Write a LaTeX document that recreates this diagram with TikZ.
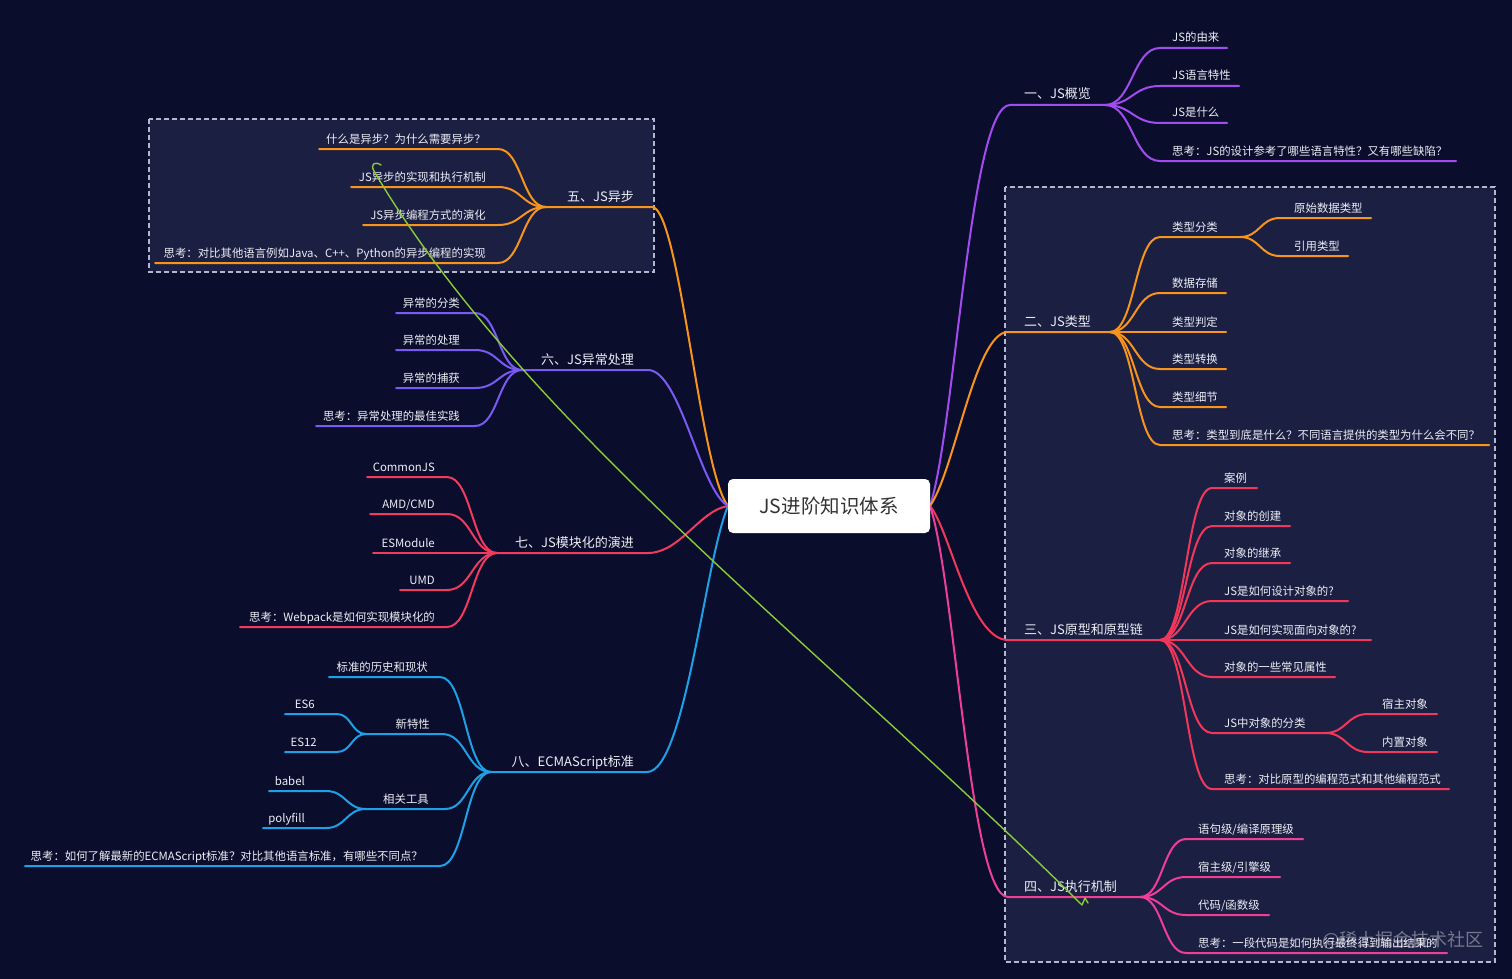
\documentclass[tikz,border=0pt]{standalone}
\usepackage{fontspec}
\setmainfont{Noto Sans CJK SC}
\usetikzlibrary{calc}
\definecolor{bg}{HTML}{0A0E2C}
\definecolor{boxbg}{HTML}{1B1F42}
\definecolor{boxln}{HTML}{B4B8CC}
\definecolor{txt}{HTML}{EDEDF5}
\definecolor{rootTxt}{HTML}{333333}
\definecolor{cA}{HTML}{A24CF0}
\definecolor{cB}{HTML}{F7941D}
\definecolor{cC}{HTML}{F2385A}
\definecolor{cD}{HTML}{EC3F95}
\definecolor{cF}{HTML}{7A5AF5}
\definecolor{cG}{HTML}{F03A5E}
\definecolor{cH}{HTML}{1FA0E6}
\definecolor{cI}{HTML}{8ACB3A}
\tikzset{
  lbl/.style={text=txt, font=\fontsize{11.4}{13}\selectfont, inner sep=0pt},
  toplbl/.style={text=txt, font=\fontsize{13}{15}\selectfont, inner sep=0pt},
  br/.style={draw=#1, line width=2pt, line cap=round},
  boxst/.style={fill=boxbg, draw=boxln, line width=1.2pt, dash pattern=on 5pt off 3pt},
  rootst/.style={fill=white, rounded corners=5pt, minimum width=202pt, minimum height=54pt,
    inner sep=0pt, text=rootTxt, font=\fontsize{19.5}{22}\selectfont},
  wm/.style={text=white, opacity=0.4, font=\fontsize{18}{20}\selectfont, inner sep=0pt},
}
% right child: [label offset] name, junction, xs, y, xe, text, colour
\newcommand\RChild[8][12]{%
  \coordinate (#2s) at (#4,#5);
  \coordinate (#2e) at (#6,#5);
  \node[lbl,anchor=base west] (#2) at ([xshift=#1pt,yshift=6pt]#2s) {#7};
  \draw[br=#8] (#3) .. controls ($(#3)!0.5!(#3 -| #2s)$) and ($(#2s)!0.5!(#2s -| #3)$) .. (#2s) -- (#2e);
}
% left child: [label offset] name, junction, xs, y, xe, text, colour
\newcommand\LChild[8][12]{%
  \coordinate (#2s) at (#4,#5);
  \coordinate (#2e) at (#6,#5);
  \node[lbl,anchor=base east] (#2) at ([xshift=-#1pt,yshift=6pt]#2e) {#7};
  \draw[br=#8] (#3) .. controls ($(#3)!0.5!(#3 -| #2e)$) and ($(#2e)!0.5!(#2e -| #3)$) .. (#2e) -- (#2s);
}
\begin{document}
\begin{tikzpicture}[x=1pt,y=-1pt]
\useasboundingbox (0,0) rectangle (1512,979);
\fill[bg] (0,0) rectangle (1512,979);
% dashed boxes
\draw[boxst] (149,119) rectangle (654,272);
\draw[boxst] (1005,187) rectangle (1495,962);

% root position
\coordinate (rootE) at (930,506);
\coordinate (rootW) at (728,506);

% ===== right main topics =====
\coordinate (t1) at (1010,105); \coordinate (j1) at (1105,105);
\coordinate (t2) at (1008,332); \coordinate (j2) at (1110,332);
\coordinate (t3) at (1008,640); \coordinate (j3) at (1160,640);
\coordinate (t4) at (1008,897); \coordinate (j4) at (1140,897);
\draw[br=cA] (rootE) .. controls (955,430) and (970,105) .. (t1) -- (j1);
\draw[br=cB] (rootE) .. controls (955,470) and (975,332) .. (t2) -- (j2);
\draw[br=cC] (rootE) .. controls (950,530) and (970,640) .. (t3) -- (j3);
\draw[br=cD] (rootE) .. controls (955,580) and (970,897) .. (t4) -- (j4);
\node[toplbl,anchor=base west] (T1) at ([xshift=14pt,yshift=6pt]t1) {一、JS概览};
\node[toplbl,anchor=base west] (T2) at ([xshift=16pt,yshift=6pt]t2) {二、JS类型};
\node[toplbl,anchor=base west] (T3) at ([xshift=16pt,yshift=6pt]t3) {三、JS原型和原型链};
\node[toplbl,anchor=base west] (T4) at ([xshift=16pt,yshift=6pt]t4) {四、JS执行机制};

% 一
\RChild{a1}{j1}{1160}{48}{1227}{JS的由来}{cA}
\RChild{a2}{j1}{1160}{86}{1239}{JS语言特性}{cA}
\RChild{a3}{j1}{1160}{123}{1227}{JS是什么}{cA}
\RChild{a4}{j1}{1160}{161}{1456}{思考：JS的设计参考了哪些语言特性？又有哪些缺陷？}{cA}
% 二
\RChild{b1}{j2}{1160}{237}{1240}{类型分类}{cB}
\RChild[14]{b1a}{b1e}{1280}{218}{1371}{原始数据类型}{cB}
\RChild[14]{b1b}{b1e}{1280}{256}{1348}{引用类型}{cB}
\RChild{b2}{j2}{1160}{293}{1226}{数据存储}{cB}
\RChild{b3}{j2}{1160}{332}{1226}{类型判定}{cB}
\RChild{b4}{j2}{1160}{369}{1226}{类型转换}{cB}
\RChild{b5}{j2}{1160}{407}{1226}{类型细节}{cB}
\RChild{b6}{j2}{1160}{445}{1489}{思考：类型到底是什么？不同语言提供的类型为什么会不同？}{cB}
% 三
\RChild{c1}{j3}{1212}{488}{1257}{案例}{cC}
\RChild{c2}{j3}{1212}{526}{1290}{对象的创建}{cC}
\RChild{c3}{j3}{1212}{563}{1290}{对象的继承}{cC}
\RChild{c4}{j3}{1212}{601}{1348}{JS是如何设计对象的?}{cC}
\RChild{c5}{j3}{1212}{640}{1371}{JS是如何实现面向对象的?}{cC}
\RChild{c6}{j3}{1212}{677}{1335}{对象的一些常见属性}{cC}
\RChild{c7}{j3}{1212}{733}{1325}{JS中对象的分类}{cC}
\RChild[14]{c7a}{c7e}{1368}{714}{1437}{宿主对象}{cC}
\RChild[14]{c7b}{c7e}{1368}{752}{1437}{内置对象}{cC}
\RChild{c8}{j3}{1212}{789}{1449}{思考：对比原型的编程范式和其他编程范式}{cC}
% 四
\RChild{d1}{j4}{1186}{839}{1303}{语句级/编译原理级}{cD}
\RChild{d2}{j4}{1186}{877}{1280}{宿主级/引擎级}{cD}
\RChild{d3}{j4}{1186}{915}{1269}{代码/函数级}{cD}
\RChild{d4}{j4}{1186}{953}{1447}{思考：一段代码是如何执行最终得到输出结果的}{cD}

% ===== left main topics =====
\coordinate (t5) at (653,207); \coordinate (j5) at (546,207);
\coordinate (t6) at (648,370); \coordinate (j6) at (522,370);
\coordinate (t7) at (648,553); \coordinate (j7) at (497,553);
\coordinate (t8) at (647,772); \coordinate (j8) at (491,772);
\draw[br=cB] (rootW) .. controls (700,470) and (680,215) .. (t5) -- (j5);
\draw[br=cF] (rootW) .. controls (700,490) and (680,370) .. (t6) -- (j6);
\draw[br=cG] (rootW) .. controls (700,510) and (680,553) .. (t7) -- (j7);
\draw[br=cH] (rootW) .. controls (705,560) and (685,772) .. (t8) -- (j8);
\node[toplbl,anchor=base east] (T5) at (634,201) {五、JS异步};
\node[toplbl,anchor=base east] (T6) at (634,364) {六、JS异常处理};
\node[toplbl,anchor=base east] (T7) at (634,547) {七、JS模块化的演进};
\node[toplbl,anchor=base east] (T8) at (634,766) {八、ECMAScript标准};

% 五
\LChild{e1}{j5}{319}{149}{498}{什么是异步？为什么需要异步？}{cB}
\LChild{e2}{j5}{351}{187}{498}{JS异步的实现和执行机制}{cB}
\LChild{e3}{j5}{363}{225}{498}{JS异步编程方式的演化}{cB}
\LChild{e4}{j5}{155}{263}{498}{思考：对比其他语言例如Java、C++、Python的异步编程的实现}{cB}
% 六
\LChild[15]{f1}{j6}{396}{313}{475}{异常的分类}{cF}
\LChild[15]{f2}{j6}{396}{350}{475}{异常的处理}{cF}
\LChild[15]{f3}{j6}{396}{388}{475}{异常的捕获}{cF}
\LChild[15]{f4}{j6}{316}{426}{475}{思考：异常处理的最佳实践}{cF}
% 七
\LChild{g1}{j7}{367}{477}{447}{CommonJS}{cG}
\LChild{g2}{j7}{370}{514}{447}{AMD/CMD}{cG}
\LChild{g3}{j7}{373}{553}{447}{ESModule}{cG}
\LChild{g4}{j7}{400}{590}{447}{UMD}{cG}
\LChild{g5}{j7}{240}{627}{447}{思考：Webpack是如何实现模块化的}{cG}
% 八
\LChild{h1}{j8}{329}{677}{440}{标准的历史和现状}{cH}
\LChild{h2}{j8}{366}{734}{442}{新特性}{cH}
\LChild[22]{h2a}{h2s}{285}{714}{337}{ES6}{cH}
\LChild[20]{h2b}{h2s}{285}{752}{337}{ES12}{cH}
\LChild[16]{h3}{j8}{366}{809}{445}{相关工具}{cH}
\LChild[21]{h3a}{h3s}{269}{791}{326}{babel}{cH}
\LChild[21]{h3b}{h3s}{263}{828}{326}{polyfill}{cH}
\LChild[17]{h4}{j8}{25}{866}{440}{思考：如何了解最新的ECMAScript标准？对比其他语言标准，有哪些不同点？}{cH}

% root node
\node[rootst] (root) at (829,506) {JS进阶知识体系};

% green annotation stroke
\draw[cI, line width=1.4pt, line cap=round, line join=round]
  (381,165) .. controls (375,161) and (370,164) .. (374,171)
  .. controls (520,420) and (825,650) .. (1082,905) -- (1085,898) -- (1088,903);

% watermark
\node[wm] (wm) at (1403,940) {@稀土掘金技术社区};
\end{tikzpicture}
\end{document}
